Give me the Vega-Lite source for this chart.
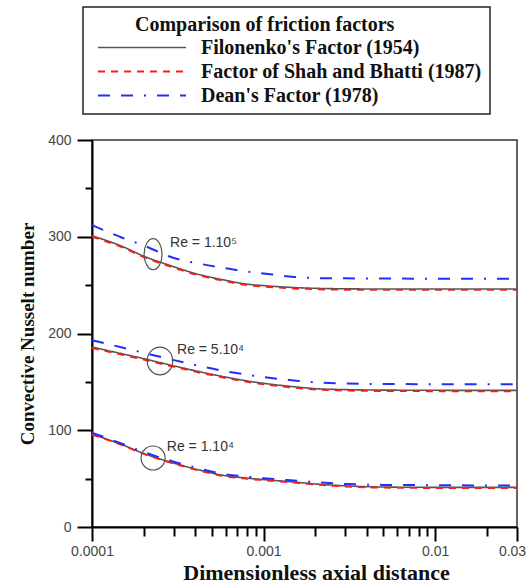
{
  "$schema": "https://vega.github.io/schema/vega-lite/v6.json",
  "autosize": {"type": "none"},
  "width": 425,
  "height": 387,
  "padding": {"left": 92, "top": 140, "right": 11, "bottom": 61},
  "background": "white",
  "config": {
    "view": {"stroke": "#333333", "strokeWidth": 1.5},
    "axis": {"grid": false}
  },
  "datasets": {
    "curves": [
      {"x": 0.0001, "y": 301, "factor": "Filonenko's Factor (1954)", "re": "1e5"},
      {"x": 0.00015, "y": 290, "factor": "Filonenko's Factor (1954)", "re": "1e5"},
      {"x": 0.0002, "y": 280, "factor": "Filonenko's Factor (1954)", "re": "1e5"},
      {"x": 0.0003, "y": 269, "factor": "Filonenko's Factor (1954)", "re": "1e5"},
      {"x": 0.0004, "y": 262, "factor": "Filonenko's Factor (1954)", "re": "1e5"},
      {"x": 0.0006, "y": 255, "factor": "Filonenko's Factor (1954)", "re": "1e5"},
      {"x": 0.0008, "y": 251, "factor": "Filonenko's Factor (1954)", "re": "1e5"},
      {"x": 0.001, "y": 249.5, "factor": "Filonenko's Factor (1954)", "re": "1e5"},
      {"x": 0.0015, "y": 247.5, "factor": "Filonenko's Factor (1954)", "re": "1e5"},
      {"x": 0.002, "y": 246.7, "factor": "Filonenko's Factor (1954)", "re": "1e5"},
      {"x": 0.003, "y": 246.2, "factor": "Filonenko's Factor (1954)", "re": "1e5"},
      {"x": 0.005, "y": 246, "factor": "Filonenko's Factor (1954)", "re": "1e5"},
      {"x": 0.01, "y": 246, "factor": "Filonenko's Factor (1954)", "re": "1e5"},
      {"x": 0.02, "y": 246, "factor": "Filonenko's Factor (1954)", "re": "1e5"},
      {"x": 0.03, "y": 246, "factor": "Filonenko's Factor (1954)", "re": "1e5"},

      {"x": 0.0001, "y": 186, "factor": "Filonenko's Factor (1954)", "re": "5e4"},
      {"x": 0.00015, "y": 179, "factor": "Filonenko's Factor (1954)", "re": "5e4"},
      {"x": 0.0002, "y": 174, "factor": "Filonenko's Factor (1954)", "re": "5e4"},
      {"x": 0.0003, "y": 166.5, "factor": "Filonenko's Factor (1954)", "re": "5e4"},
      {"x": 0.0004, "y": 161.5, "factor": "Filonenko's Factor (1954)", "re": "5e4"},
      {"x": 0.0006, "y": 155, "factor": "Filonenko's Factor (1954)", "re": "5e4"},
      {"x": 0.0008, "y": 151, "factor": "Filonenko's Factor (1954)", "re": "5e4"},
      {"x": 0.001, "y": 148.5, "factor": "Filonenko's Factor (1954)", "re": "5e4"},
      {"x": 0.0015, "y": 145, "factor": "Filonenko's Factor (1954)", "re": "5e4"},
      {"x": 0.002, "y": 143, "factor": "Filonenko's Factor (1954)", "re": "5e4"},
      {"x": 0.003, "y": 142, "factor": "Filonenko's Factor (1954)", "re": "5e4"},
      {"x": 0.005, "y": 141.5, "factor": "Filonenko's Factor (1954)", "re": "5e4"},
      {"x": 0.01, "y": 141.3, "factor": "Filonenko's Factor (1954)", "re": "5e4"},
      {"x": 0.02, "y": 141.2, "factor": "Filonenko's Factor (1954)", "re": "5e4"},
      {"x": 0.03, "y": 141.2, "factor": "Filonenko's Factor (1954)", "re": "5e4"},

      {"x": 0.0001, "y": 96, "factor": "Filonenko's Factor (1954)", "re": "1e4"},
      {"x": 0.00015, "y": 85, "factor": "Filonenko's Factor (1954)", "re": "1e4"},
      {"x": 0.0002, "y": 76, "factor": "Filonenko's Factor (1954)", "re": "1e4"},
      {"x": 0.0003, "y": 66, "factor": "Filonenko's Factor (1954)", "re": "1e4"},
      {"x": 0.0004, "y": 60, "factor": "Filonenko's Factor (1954)", "re": "1e4"},
      {"x": 0.0006, "y": 53, "factor": "Filonenko's Factor (1954)", "re": "1e4"},
      {"x": 0.0008, "y": 50.5, "factor": "Filonenko's Factor (1954)", "re": "1e4"},
      {"x": 0.001, "y": 49, "factor": "Filonenko's Factor (1954)", "re": "1e4"},
      {"x": 0.0015, "y": 46.5, "factor": "Filonenko's Factor (1954)", "re": "1e4"},
      {"x": 0.002, "y": 44.5, "factor": "Filonenko's Factor (1954)", "re": "1e4"},
      {"x": 0.003, "y": 42.5, "factor": "Filonenko's Factor (1954)", "re": "1e4"},
      {"x": 0.005, "y": 41.3, "factor": "Filonenko's Factor (1954)", "re": "1e4"},
      {"x": 0.01, "y": 41, "factor": "Filonenko's Factor (1954)", "re": "1e4"},
      {"x": 0.02, "y": 41, "factor": "Filonenko's Factor (1954)", "re": "1e4"},
      {"x": 0.03, "y": 41, "factor": "Filonenko's Factor (1954)", "re": "1e4"},

      {"x": 0.0001, "y": 300, "factor": "Factor of Shah and Bhatti (1987)", "re": "1e5"},
      {"x": 0.00015, "y": 289, "factor": "Factor of Shah and Bhatti (1987)", "re": "1e5"},
      {"x": 0.0002, "y": 279, "factor": "Factor of Shah and Bhatti (1987)", "re": "1e5"},
      {"x": 0.0003, "y": 268, "factor": "Factor of Shah and Bhatti (1987)", "re": "1e5"},
      {"x": 0.0004, "y": 261, "factor": "Factor of Shah and Bhatti (1987)", "re": "1e5"},
      {"x": 0.0006, "y": 254, "factor": "Factor of Shah and Bhatti (1987)", "re": "1e5"},
      {"x": 0.0008, "y": 250, "factor": "Factor of Shah and Bhatti (1987)", "re": "1e5"},
      {"x": 0.001, "y": 248.5, "factor": "Factor of Shah and Bhatti (1987)", "re": "1e5"},
      {"x": 0.0015, "y": 246.5, "factor": "Factor of Shah and Bhatti (1987)", "re": "1e5"},
      {"x": 0.002, "y": 245.7, "factor": "Factor of Shah and Bhatti (1987)", "re": "1e5"},
      {"x": 0.003, "y": 245.2, "factor": "Factor of Shah and Bhatti (1987)", "re": "1e5"},
      {"x": 0.005, "y": 245, "factor": "Factor of Shah and Bhatti (1987)", "re": "1e5"},
      {"x": 0.01, "y": 245, "factor": "Factor of Shah and Bhatti (1987)", "re": "1e5"},
      {"x": 0.02, "y": 245, "factor": "Factor of Shah and Bhatti (1987)", "re": "1e5"},
      {"x": 0.03, "y": 245, "factor": "Factor of Shah and Bhatti (1987)", "re": "1e5"},

      {"x": 0.0001, "y": 185, "factor": "Factor of Shah and Bhatti (1987)", "re": "5e4"},
      {"x": 0.00015, "y": 178, "factor": "Factor of Shah and Bhatti (1987)", "re": "5e4"},
      {"x": 0.0002, "y": 173, "factor": "Factor of Shah and Bhatti (1987)", "re": "5e4"},
      {"x": 0.0003, "y": 165.5, "factor": "Factor of Shah and Bhatti (1987)", "re": "5e4"},
      {"x": 0.0004, "y": 160.5, "factor": "Factor of Shah and Bhatti (1987)", "re": "5e4"},
      {"x": 0.0006, "y": 154, "factor": "Factor of Shah and Bhatti (1987)", "re": "5e4"},
      {"x": 0.0008, "y": 150, "factor": "Factor of Shah and Bhatti (1987)", "re": "5e4"},
      {"x": 0.001, "y": 147.5, "factor": "Factor of Shah and Bhatti (1987)", "re": "5e4"},
      {"x": 0.0015, "y": 144, "factor": "Factor of Shah and Bhatti (1987)", "re": "5e4"},
      {"x": 0.002, "y": 142, "factor": "Factor of Shah and Bhatti (1987)", "re": "5e4"},
      {"x": 0.003, "y": 141, "factor": "Factor of Shah and Bhatti (1987)", "re": "5e4"},
      {"x": 0.005, "y": 140.5, "factor": "Factor of Shah and Bhatti (1987)", "re": "5e4"},
      {"x": 0.01, "y": 140.3, "factor": "Factor of Shah and Bhatti (1987)", "re": "5e4"},
      {"x": 0.02, "y": 140.2, "factor": "Factor of Shah and Bhatti (1987)", "re": "5e4"},
      {"x": 0.03, "y": 140.2, "factor": "Factor of Shah and Bhatti (1987)", "re": "5e4"},

      {"x": 0.0001, "y": 95.5, "factor": "Factor of Shah and Bhatti (1987)", "re": "1e4"},
      {"x": 0.00015, "y": 84.5, "factor": "Factor of Shah and Bhatti (1987)", "re": "1e4"},
      {"x": 0.0002, "y": 75.5, "factor": "Factor of Shah and Bhatti (1987)", "re": "1e4"},
      {"x": 0.0003, "y": 65.5, "factor": "Factor of Shah and Bhatti (1987)", "re": "1e4"},
      {"x": 0.0004, "y": 59.3, "factor": "Factor of Shah and Bhatti (1987)", "re": "1e4"},
      {"x": 0.0006, "y": 52.3, "factor": "Factor of Shah and Bhatti (1987)", "re": "1e4"},
      {"x": 0.0008, "y": 49.8, "factor": "Factor of Shah and Bhatti (1987)", "re": "1e4"},
      {"x": 0.001, "y": 48.3, "factor": "Factor of Shah and Bhatti (1987)", "re": "1e4"},
      {"x": 0.0015, "y": 45.8, "factor": "Factor of Shah and Bhatti (1987)", "re": "1e4"},
      {"x": 0.002, "y": 43.8, "factor": "Factor of Shah and Bhatti (1987)", "re": "1e4"},
      {"x": 0.003, "y": 41.8, "factor": "Factor of Shah and Bhatti (1987)", "re": "1e4"},
      {"x": 0.005, "y": 40.6, "factor": "Factor of Shah and Bhatti (1987)", "re": "1e4"},
      {"x": 0.01, "y": 40.3, "factor": "Factor of Shah and Bhatti (1987)", "re": "1e4"},
      {"x": 0.02, "y": 40.3, "factor": "Factor of Shah and Bhatti (1987)", "re": "1e4"},
      {"x": 0.03, "y": 40.3, "factor": "Factor of Shah and Bhatti (1987)", "re": "1e4"},

      {"x": 0.0001, "y": 312, "factor": "Dean's Factor (1978)", "re": "1e5"},
      {"x": 0.00015, "y": 299, "factor": "Dean's Factor (1978)", "re": "1e5"},
      {"x": 0.0002, "y": 291, "factor": "Dean's Factor (1978)", "re": "1e5"},
      {"x": 0.0003, "y": 278, "factor": "Dean's Factor (1978)", "re": "1e5"},
      {"x": 0.0004, "y": 273, "factor": "Dean's Factor (1978)", "re": "1e5"},
      {"x": 0.0006, "y": 267.5, "factor": "Dean's Factor (1978)", "re": "1e5"},
      {"x": 0.0008, "y": 264, "factor": "Dean's Factor (1978)", "re": "1e5"},
      {"x": 0.001, "y": 262, "factor": "Dean's Factor (1978)", "re": "1e5"},
      {"x": 0.0015, "y": 258.5, "factor": "Dean's Factor (1978)", "re": "1e5"},
      {"x": 0.002, "y": 257.3, "factor": "Dean's Factor (1978)", "re": "1e5"},
      {"x": 0.003, "y": 257, "factor": "Dean's Factor (1978)", "re": "1e5"},
      {"x": 0.005, "y": 256.8, "factor": "Dean's Factor (1978)", "re": "1e5"},
      {"x": 0.01, "y": 256.7, "factor": "Dean's Factor (1978)", "re": "1e5"},
      {"x": 0.02, "y": 256.7, "factor": "Dean's Factor (1978)", "re": "1e5"},
      {"x": 0.03, "y": 256.7, "factor": "Dean's Factor (1978)", "re": "1e5"},

      {"x": 0.0001, "y": 193, "factor": "Dean's Factor (1978)", "re": "5e4"},
      {"x": 0.00015, "y": 185.5, "factor": "Dean's Factor (1978)", "re": "5e4"},
      {"x": 0.0002, "y": 180, "factor": "Dean's Factor (1978)", "re": "5e4"},
      {"x": 0.0003, "y": 172.5, "factor": "Dean's Factor (1978)", "re": "5e4"},
      {"x": 0.0004, "y": 167.5, "factor": "Dean's Factor (1978)", "re": "5e4"},
      {"x": 0.0006, "y": 161, "factor": "Dean's Factor (1978)", "re": "5e4"},
      {"x": 0.0008, "y": 157.5, "factor": "Dean's Factor (1978)", "re": "5e4"},
      {"x": 0.001, "y": 155, "factor": "Dean's Factor (1978)", "re": "5e4"},
      {"x": 0.0015, "y": 151.5, "factor": "Dean's Factor (1978)", "re": "5e4"},
      {"x": 0.002, "y": 149.5, "factor": "Dean's Factor (1978)", "re": "5e4"},
      {"x": 0.003, "y": 148.3, "factor": "Dean's Factor (1978)", "re": "5e4"},
      {"x": 0.005, "y": 147.8, "factor": "Dean's Factor (1978)", "re": "5e4"},
      {"x": 0.01, "y": 147.6, "factor": "Dean's Factor (1978)", "re": "5e4"},
      {"x": 0.02, "y": 147.5, "factor": "Dean's Factor (1978)", "re": "5e4"},
      {"x": 0.03, "y": 147.5, "factor": "Dean's Factor (1978)", "re": "5e4"},

      {"x": 0.0001, "y": 97.5, "factor": "Dean's Factor (1978)", "re": "1e4"},
      {"x": 0.00015, "y": 86, "factor": "Dean's Factor (1978)", "re": "1e4"},
      {"x": 0.0002, "y": 77.5, "factor": "Dean's Factor (1978)", "re": "1e4"},
      {"x": 0.0003, "y": 67.5, "factor": "Dean's Factor (1978)", "re": "1e4"},
      {"x": 0.0004, "y": 61.5, "factor": "Dean's Factor (1978)", "re": "1e4"},
      {"x": 0.0006, "y": 54.5, "factor": "Dean's Factor (1978)", "re": "1e4"},
      {"x": 0.0008, "y": 52, "factor": "Dean's Factor (1978)", "re": "1e4"},
      {"x": 0.001, "y": 50.5, "factor": "Dean's Factor (1978)", "re": "1e4"},
      {"x": 0.0015, "y": 48, "factor": "Dean's Factor (1978)", "re": "1e4"},
      {"x": 0.002, "y": 46.3, "factor": "Dean's Factor (1978)", "re": "1e4"},
      {"x": 0.003, "y": 44.5, "factor": "Dean's Factor (1978)", "re": "1e4"},
      {"x": 0.005, "y": 43.5, "factor": "Dean's Factor (1978)", "re": "1e4"},
      {"x": 0.01, "y": 43.2, "factor": "Dean's Factor (1978)", "re": "1e4"},
      {"x": 0.02, "y": 43, "factor": "Dean's Factor (1978)", "re": "1e4"},
      {"x": 0.03, "y": 43, "factor": "Dean's Factor (1978)", "re": "1e4"}
    ],
    "marks": [
      {"x": 0.000227, "y": 282, "re": "1e5"},
      {"x": 0.000249, "y": 171.6, "re": "5e4"},
      {"x": 0.000227, "y": 71.3, "re": "1e4"}
    ],
    "labels": [
      {"x": 0.000285, "y": 293.5, "label": "Re = 1.10⁵"},
      {"x": 0.000313, "y": 183, "label": "Re = 5.10⁴"},
      {"x": 0.000273, "y": 82.7, "label": "Re = 1.10⁴"}
    ]
  },
  "layer": [
    {
      "data": {"name": "curves"},
      "mark": {"type": "line", "interpolate": "monotone"},
      "encoding": {
        "x": {
          "field": "x", "type": "quantitative",
          "scale": {"type": "log", "domain": [0.0001, 0.03], "nice": false},
          "axis": {
            "title": "Dimensionless axial distance",
            "values": [0.0001, 0.0002, 0.0003, 0.0004, 0.0005, 0.0006, 0.0007, 0.0008, 0.0009, 0.001, 0.002, 0.003, 0.004, 0.005, 0.006, 0.007, 0.008, 0.009, 0.01, 0.02, 0.03],
            "labelExpr": "datum.value == 0.0001 ? '0.0001' : datum.value == 0.001 ? '0.001' : datum.value == 0.01 ? '0.01' : datum.value == 0.03 ? '0.03' : ''",
            "labelOverlap": false,
            "labelFlush": false,
            "labelFont": "Liberation Sans",
            "labelFontSize": 14,
            "labelColor": "#444444",
            "labelPadding": 3,
            "labelOffset": {"condition": {"test": "datum.value == 0.03", "value": -5}, "value": 0},
            "tickColor": "#000000",
            "tickWidth": 2,
            "tickSize": {"condition": {"test": "datum.value == 0.0001 || datum.value == 0.001 || datum.value == 0.01 || datum.value == 0.03", "value": 14}, "value": 9},
            "domainColor": "#000000",
            "domainWidth": 2,
            "titleFont": "Liberation Serif",
            "titleFontWeight": "bold",
            "titleFontSize": 22,
            "titleColor": "#111111",
            "titlePadding": 4,
            "titleX": 224,
            "titleAlign": "center"
          }
        },
        "y": {
          "field": "y", "type": "quantitative",
          "scale": {"domain": [0, 400], "nice": false},
          "axis": {
            "title": "Convective Nusselt number",
            "values": [0, 50, 100, 150, 200, 250, 300, 350, 400],
            "labelExpr": "datum.value % 100 == 0 ? datum.label : ''",
            "labelFont": "Liberation Sans",
            "labelFontSize": 14,
            "labelColor": "#444444",
            "labelPadding": 6,
            "tickColor": "#000000",
            "tickWidth": 2,
            "tickSize": {"condition": {"test": "datum.value % 100 == 0", "value": 15}, "value": 7},
            "domainColor": "#000000",
            "domainWidth": 2,
            "titleFont": "Liberation Serif",
            "titleFontWeight": "bold",
            "titleFontSize": 19,
            "titleColor": "#111111",
            "titlePadding": 10
          }
        },
        "detail": {"field": "re"},
        "color": {
          "field": "factor", "type": "nominal",
          "scale": {
            "domain": ["Filonenko's Factor (1954)", "Factor of Shah and Bhatti (1987)", "Dean's Factor (1978)"],
            "range": ["#555555", "#ff1a1a", "#1f2fff"]
          },
          "legend": {
            "title": "Comparison of friction factors",
            "orient": "none",
            "legendX": -9,
            "legendY": -133,
            "direction": "vertical",
            "padding": 8,
            "strokeColor": "#222222",
            "titleFont": "Liberation Serif",
            "titleFontWeight": "bold",
            "titleFontSize": 20,
            "titleColor": "#111111",
            "titleAnchor": "start",
            "titleLimit": 500,
            "titlePadding": 3,
            "labelFont": "Liberation Serif",
            "labelFontWeight": "bold",
            "labelFontSize": 20,
            "labelColor": "#111111",
            "labelOffset": 14,
            "labelLimit": 500,
            "symbolType": "stroke",
            "symbolSize": 7744,
            "symbolOffset": 6,
            "symbolStrokeWidth": 2.5,
            "clipHeight": 19,
            "rowPadding": 3,
            "encode": {
              "title": {"update": {"dx": {"value": 44}}},
              "legend": {"update": {"strokeWidth": {"value": 1.5}}}
            }
          }
        },
        "strokeDash": {
          "field": "factor", "type": "nominal",
          "scale": {
            "domain": ["Filonenko's Factor (1954)", "Factor of Shah and Bhatti (1987)", "Dean's Factor (1978)"],
            "range": [[1, 0], [7, 6], [12, 11, 12, 11, 2, 11]]
          },
          "legend": {
            "title": "Comparison of friction factors"
          }
        },
        "strokeWidth": {
          "field": "factor", "type": "nominal",
          "scale": {
            "domain": ["Filonenko's Factor (1954)", "Factor of Shah and Bhatti (1987)", "Dean's Factor (1978)"],
            "range": [1.6, 2, 2.2]
          },
          "legend": null
        }
      }
    },
    {
      "data": {"name": "marks"},
      "mark": {"type": "point", "filled": false, "stroke": "#555555", "strokeWidth": 1.2, "opacity": 1},
      "encoding": {
        "x": {"field": "x", "type": "quantitative"},
        "y": {"field": "y", "type": "quantitative"},
        "shape": {
          "field": "re", "type": "nominal",
          "scale": {
            "domain": ["1e5", "5e4", "1e4"],
            "range": ["M-0.58,0A0.58,1,0,1,0,0.58,0A0.58,1,0,1,0,-0.58,0", "M-0.92,0A0.92,1,0,1,0,0.92,0A0.92,1,0,1,0,-0.92,0", "M-1,0A1,1,0,1,0,1,0A1,1,0,1,0,-1,0"]
          },
          "legend": null
        },
        "size": {
          "field": "re", "type": "nominal",
          "scale": {"domain": ["1e5", "5e4", "1e4"], "range": [961, 576, 400]},
          "legend": null
        }
      }
    },
    {
      "data": {"name": "labels"},
      "mark": {"type": "text", "align": "left", "baseline": "middle", "font": "Liberation Sans", "fontSize": 14, "color": "#333333"},
      "encoding": {
        "x": {"field": "x", "type": "quantitative"},
        "y": {"field": "y", "type": "quantitative"},
        "text": {"field": "label"}
      }
    }
  ]
}
